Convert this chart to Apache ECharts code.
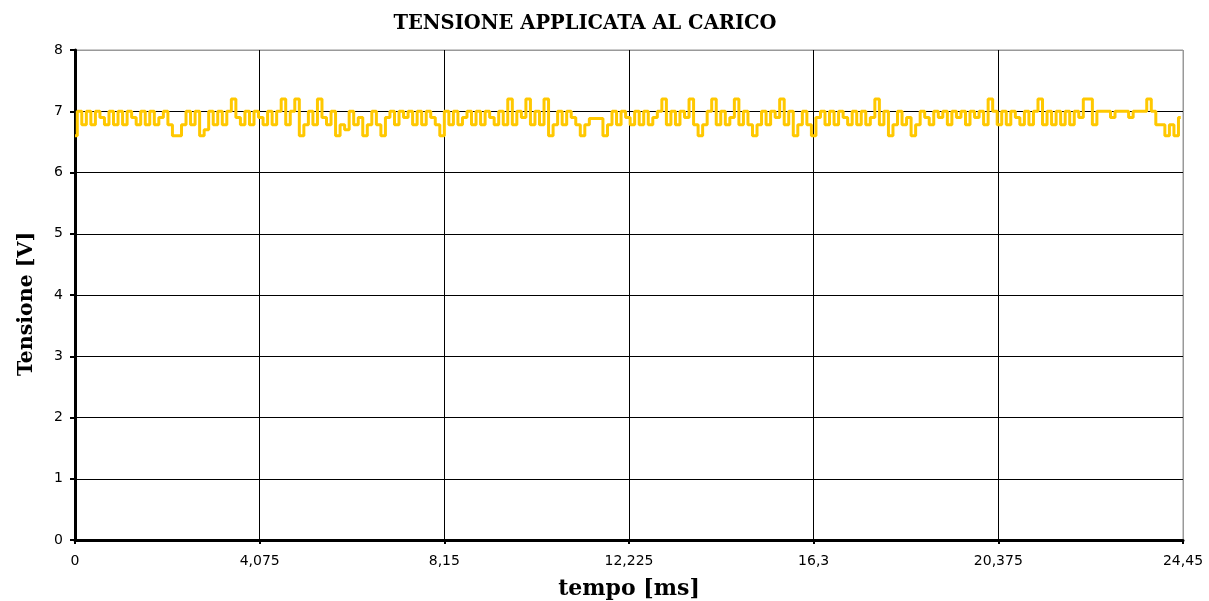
<!DOCTYPE html>
<html><head><meta charset="utf-8">
<script src="https://cdn.jsdelivr.net/npm/echarts@6/dist/echarts.min.js"></script>
<style>html,body{margin:0;padding:0;background:#fff}#c{width:1209px;height:601px}</style>
</head><body><div id="c"></div>
<script>
const titleText = 'TENSIONE APPLICATA AL CARICO';
const xName = 'tempo [ms]';
const yName = 'Tensione [V]';
const tMax = 24.45;
const tStep = 0.1;
const xTickInterval = 4.075;
const voltage = [
6.6,7.0,6.78,7.0,6.78,7.0,6.9,6.78,7.0,6.78,
7.0,6.78,7.0,6.9,6.78,7.0,6.78,7.0,6.78,6.9,
7.0,6.78,6.6,6.6,6.78,7.0,6.78,7.0,6.6,6.7,
7.0,6.78,7.0,6.78,7.0,7.2,6.9,6.78,7.0,6.78,
7.0,6.9,6.78,7.0,6.78,7.0,7.2,6.78,7.0,7.2,
6.6,6.78,7.0,6.78,7.2,6.9,6.78,7.0,6.6,6.78,
6.7,7.0,6.78,6.9,6.6,6.78,7.0,6.78,6.6,6.9,
7.0,6.78,7.0,6.9,7.0,6.78,7.0,6.78,7.0,6.9,
6.78,6.6,7.0,6.78,7.0,6.78,6.9,7.0,6.78,7.0,
6.78,7.0,6.9,6.78,7.0,6.78,7.2,6.78,7.0,6.9,
7.2,6.78,7.0,6.78,7.2,6.6,6.78,7.0,6.78,7.0,
6.9,6.78,6.6,6.78,6.88,6.88,6.88,6.6,6.78,7.0,
6.78,7.0,6.9,6.78,7.0,6.78,7.0,6.78,6.9,7.0,
7.2,6.78,7.0,6.78,7.0,6.9,7.2,6.78,6.6,6.78,
7.0,7.2,6.78,7.0,6.78,6.9,7.2,6.78,7.0,6.78,
6.6,6.78,7.0,6.78,7.0,6.9,7.2,6.78,7.0,6.6,
6.78,7.0,6.78,6.6,6.9,7.0,6.78,7.0,6.78,7.0,
6.9,6.78,7.0,6.78,7.0,6.78,6.9,7.2,6.78,7.0,
6.6,6.78,7.0,6.78,6.9,6.6,6.78,7.0,6.9,6.78,
7.0,6.9,7.0,6.78,7.0,6.9,7.0,6.78,7.0,6.9,
7.0,6.78,7.2,7.0,6.78,7.0,6.78,7.0,6.9,6.78,
7.0,6.78,7.0,7.2,6.78,7.0,6.78,7.0,6.78,7.0,
6.78,7.0,6.9,7.2,7.2,6.78,7.0,7.0,7.0,6.9,
7.0,7.0,7.0,6.9,7.0,7.0,7.0,7.2,7.0,6.78,
6.78,6.6,6.78,6.6,6.9
];
const points = voltage.map((v, i) => [Math.min(+(i * tStep).toFixed(3), tMax), v]);

const chart = echarts.init(document.getElementById('c'), null, {renderer: 'canvas'});
const serif = '"DejaVu Serif","Liberation Serif",serif';
const sans = '"DejaVu Sans","Liberation Sans",sans-serif';
const gridColors = ['#000','#000','#000','#000','#000','#000','#000','#000','#999'];
chart.setOption({
  animation: false,
  backgroundColor: '#fff',
  title: {text: titleText, left: 580, top: 9, textAlign: 'center',
    textStyle: {fontFamily: serif, fontWeight: 'bold', fontSize: 19.5, color: '#000'}},
  grid: {left: 75, right: 26, top: 50, bottom: 61, show: true, borderColor: '#999', borderWidth: 1,
    containLabel: false, outerBoundsMode: 'none'},
  xAxis: {
    type: 'value', min: 0, max: tMax, interval: xTickInterval,
    name: xName, nameLocation: 'middle', nameGap: 38,
    nameTextStyle: {fontFamily: serif, fontWeight: 'bold', fontSize: 22, color: '#000'},
    axisLine: {lineStyle: {color: '#000', width: 3}},
    axisTick: {show: true, length: 4, lineStyle: {color: '#000', width: 2}},
    axisLabel: {fontFamily: sans, fontSize: 14, color: '#000', margin: 14,
      showMaxLabel: true,
      formatter: v => String(+v.toFixed(3)).replace('.', ',')},
    splitLine: {show: true, lineStyle: {color: ['#000','#000','#000','#000','#000','#000','#999'], width: 1}}
  },
  yAxis: {
    type: 'value', min: 0, max: 8, interval: 1,
    name: yName, nameLocation: 'middle', nameGap: 38, nameRotate: 90,
    nameTextStyle: {fontFamily: serif, fontWeight: 'bold', fontSize: 20.5, color: '#000', padding: [0, 18, 0, 0]},
    axisLine: {show: true, lineStyle: {color: '#000', width: 3}},
    axisTick: {show: true, length: 5, lineStyle: {color: '#000', width: 2}},
    axisLabel: {fontFamily: sans, fontSize: 14, color: '#000', margin: 12},
    splitLine: {show: true, lineStyle: {color: gridColors, width: 1}}
  },
  series: [{
    type: 'line', data: points, step: 'middle', showSymbol: false, symbol: 'none',
    lineStyle: {color: '#FFC800', width: 3}, z: 3
  }]
});
</script></body></html>
